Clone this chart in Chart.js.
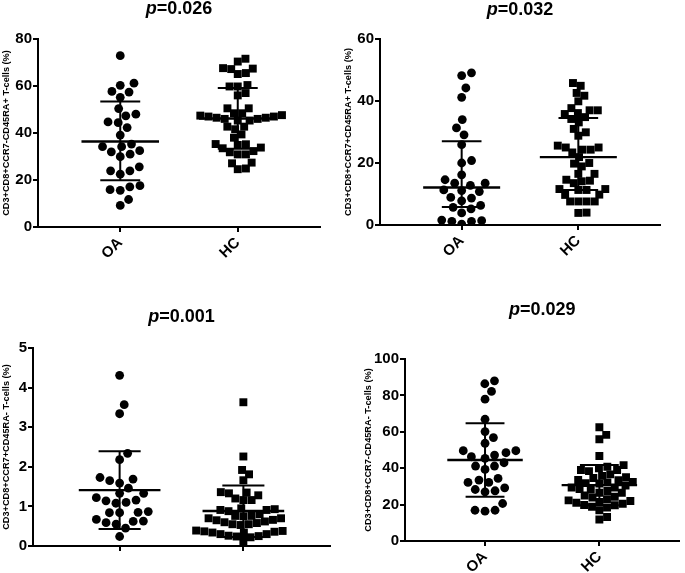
<!DOCTYPE html>
<html><head><meta charset="utf-8">
<script src="https://cdn.jsdelivr.net/npm/chart.js@4.4.1/dist/chart.umd.min.js"></script>
<style>
html,body{margin:0;padding:0;background:#fff;}
#wrap{position:relative;width:685px;height:573px;overflow:hidden;background:#fff;}
.pn{position:absolute;}
.pn canvas{display:block;}
</style></head><body>
<div id="wrap">
<div class="pn" style="left:0;top:0;"><canvas id="c1" width="340" height="285"></canvas></div>
<div class="pn" style="left:340px;top:0;"><canvas id="c2" width="345" height="285"></canvas></div>
<div class="pn" style="left:0;top:290px;"><canvas id="c3" width="340" height="283"></canvas></div>
<div class="pn" style="left:340px;top:290px;"><canvas id="c4" width="345" height="283"></canvas></div>
</div>
<script>
// ---------- data ----------
const groups = ['OA', 'HC'];
const pValues = ['0.026', '0.032', '0.001', '0.029'];
const yTitles = [
  'CD3+CD8+CCR7-CD45RA+ T-cells (%)',
  'CD3+CD8+CCR7+CD45RA+ T-cells (%)',
  'CD3+CD8+CCR7+CD45RA- T-cells (%)',
  'CD3+CD8+CCR7-CD45RA- T-cells (%)'
];
const yMaxes = [80, 60, 5, 100];
const ySteps = [20, 20, 1, 20];

// Panel 1
const p1OA = [72.9,61.2,60.3,57.7,57.4,55.2,50.4,48.0,47.3,44.7,44.4,42.3,39.1,35.3,34.2,34.2,32.5,32.0,31.0,29.9,25.6,23.9,23.9,22.5,17.6,17.1,15.9,15.6,11.7,9.2];
const p1HC = [71.6,70.4,67.6,67.4,67.2,65.5,65.1,60.4,59.8,59.8,57.0,56.0,50.5,50.5,48.4,48.4,47.6,47.4,47.0,47.0,46.5,46.5,46.0,46.0,45.3,45.3,42.7,42.7,41.6,39.4,38.0,35.3,35.2,34.9,33.8,33.5,32.3,31.8,30.9,30.9,27.4,27.1,24.9,24.6];
const p1Mid = [36.4, 46.2];
const p1Low = [19.9, 33.3];
const p1High = [53.4, 59.1];

// Panel 2
const p2OA = [49.1,48.2,44.2,41.2,34.0,31.3,29.1,25.9,20.8,20.0,16.2,14.6,13.5,13.5,12.8,11.3,11.1,10.8,8.9,8.7,7.8,6.3,5.7,5.2,3.9,1.6,1.4,1.2,1.2,0.3];
const p2HC = [45.8,44.9,42.6,41.7,39.9,37.7,37.0,37.0,36.1,35.8,34.8,34.2,33.1,31.0,29.9,28.8,25.6,25.0,25.0,24.3,24.3,23.4,21.9,20.0,19.8,18.9,16.5,16.5,14.6,14.3,14.1,13.5,11.6,11.6,11.3,11.3,9.8,9.7,7.6,7.6,7.6,7.6,4.0,3.9];
const p2Mid = [12.1, 21.9];
const p2Low = [5.8, 11.3];
const p2High = [27.0, 34.5];

// Panel 3
const p3OA = [4.31,3.57,3.34,2.34,2.18,1.73,1.69,1.65,1.59,1.46,1.33,1.33,1.22,1.16,1.14,1.10,1.08,0.87,0.85,0.84,0.84,0.67,0.63,0.62,0.59,0.55,0.45,0.24];
const p3HC = [3.63,2.26,1.92,1.81,1.66,1.36,1.35,1.33,1.28,1.20,1.16,1.16,0.95,0.93,0.91,0.91,0.88,0.80,0.76,0.75,0.70,0.66,0.62,0.58,0.55,0.53,0.55,0.60,0.65,0.70,0.76,0.38,0.36,0.34,0.30,0.26,0.24,0.22,0.25,0.30,0.34,0.37,0.39,0.12];
const p3Mid = [1.41, 0.885];
const p3Low = [0.43, 0.23];
const p3High = [2.39, 1.53];

// Panel 4
const p4OA = [88.0,86.4,82.2,77.9,66.9,60.1,56.8,53.7,49.6,49.6,48.5,47.2,46.3,45.4,43.0,41.2,41.2,39.3,34.4,33.5,32.2,32.2,29.2,28.3,27.6,27.0,20.6,16.9,16.9,16.4];
const p4HC = [62.5,58.3,55.9,46.7,41.7,40.8,39.9,39.0,39.0,38.4,36.6,35.8,35.0,34.6,33.5,33.4,32.5,32.2,31.8,31.6,30.5,29.4,29.4,28.5,28.3,27.5,26.5,26.5,25.0,24.3,23.9,23.0,22.3,22.0,21.5,21.0,20.5,19.8,19.6,18.8,18.4,16.9,13.2,11.8];
const p4Mid = [44.5, 30.7];
const p4Low = [24.3, 19.7];
const p4High = [64.7, 41.7];

// ---------- drawing ----------
const FONT = 'Arial, "Liberation Sans", Helvetica, sans-serif';
Chart.defaults.font.family = FONT;
Chart.defaults.color = '#000';

// beeswarm: horizontal pixel offsets so markers don't overlap
function swarm(vals, pxPerY, D) {
  const idx = vals.map((v, i) => i).sort((a, b) => vals[a] - vals[b]);
  const placed = [];
  const offs = new Array(vals.length).fill(0);
  idx.forEach(i => {
    const y = vals[i] * pxPerY;
    const near = placed.filter(p => Math.abs(p.y - y) < D);
    const cands = [0];
    near.forEach(p => {
      const dx = Math.sqrt(D * D - (p.y - y) * (p.y - y));
      cands.push(p.x + dx, p.x - dx);
    });
    const ok = cands.filter(c => near.every(p => (p.x - c) * (p.x - c) + (p.y - y) * (p.y - y) >= D * D - 0.05));
    const bal = near.reduce((s, p) => s + Math.sign(p.x), 0);
    ok.sort((a, b) => {
      const d = Math.abs(a) - Math.abs(b);
      if (Math.abs(d) > 0.6) return d;
      return bal > 0 ? a - b : b - a;
    });
    const x = ok.length ? ok[0] : 0;
    placed.push({ x, y });
    offs[i] = x;
  });
  return offs;
}

const pTitle = {
  id: 'pTitle',
  afterDraw(chart, args, opts) {
    const ctx = chart.ctx, a = chart.chartArea;
    const cx = (a.left + a.right) / 2;
    ctx.save();
    ctx.fillStyle = '#000';
    ctx.textBaseline = 'alphabetic';
    ctx.textAlign = 'left';
    const f1 = 'italic bold ' + opts.size + 'px ' + FONT;
    const f2 = 'bold ' + opts.size + 'px ' + FONT;
    ctx.font = f1; const w1 = ctx.measureText('p').width;
    ctx.font = f2; const w2 = ctx.measureText('=' + opts.text).width;
    const x = cx - (w1 + w2) / 2;
    ctx.font = f1; ctx.fillText('p', x, opts.y);
    ctx.font = f2; ctx.fillText('=' + opts.text, x + w1, opts.y);
    ctx.restore();
  }
};

function makePanel(id, k, oa, hc, mid, low, high, area) {
  const xMin = 0.3, xMax = 2.7;
  const plotW = area.right - area.left, plotH = area.bottom - area.top;
  const pxPerX = plotW / (xMax - xMin), pxPerY = plotH / yMaxes[k];
  const datasets = [];
  [oa, hc].forEach((vals, gi) => {
    const g = gi + 1;
    const circle = gi === 0;
    const offs = swarm(vals, pxPerY, circle ? 10.2 : 8.2);
    datasets.push({
      data: vals.map((v, i) => ({ x: g + offs[i] / pxPerX, y: v })),
      pointStyle: circle ? 'circle' : 'rect',
      pointRadius: circle ? 4.4 : 5.6,
      backgroundColor: '#000', borderColor: '#000', borderWidth: 0,
      showLine: false, order: 2
    });
    const seg = (x1, y1, x2, y2, w) => ({
      data: [{ x: x1, y: y1 }, { x: x2, y: y2 }],
      showLine: true, borderColor: '#000', borderWidth: w, pointRadius: 0,
      borderCapStyle: 'butt', order: 1
    });
    datasets.push(seg(g - 0.33, mid[gi], g + 0.33, mid[gi], 2.4));
    datasets.push(seg(g, low[gi], g, high[gi], 2));
    datasets.push(seg(g - 0.17, high[gi], g + 0.17, high[gi], 2));
    datasets.push(seg(g - 0.17, low[gi], g + 0.17, low[gi], 2));
  });
  new Chart(document.getElementById(id), {
    type: 'scatter',
    data: { datasets },
    plugins: [pTitle],
    options: {
      responsive: false, animation: false, devicePixelRatio: 1, events: [],
      layout: { padding: { left: 0, top: area.top, right: area.w - area.right, bottom: 0 } },
      plugins: {
        legend: { display: false }, tooltip: { enabled: false },
        pTitle: { text: pValues[k], size: 18, y: area.titleY }
      },
      scales: {
        x: {
          type: 'linear', min: xMin, max: xMax,
          afterBuildTicks: s => { s.ticks = [{ value: 1 }, { value: 2 }]; },
          afterFit: s => { s.height = area.h - area.bottom; },
          ticks: {
            display: area.showX, autoSkip: false, maxRotation: 45, minRotation: 45,
            font: { size: 15, weight: 'bold' }, color: '#000', padding: 2,
            callback: (v, i) => groups[i]
          },
          grid: { drawOnChartArea: false, drawTicks: true, tickLength: 5, color: '#000', lineWidth: 2 },
          border: { display: true, color: '#000', width: 2 }
        },
        y: {
          min: 0, max: yMaxes[k],
          afterFit: s => { s.width = area.left; },
          ticks: { stepSize: ySteps[k], font: { size: 15, weight: 'bold' }, color: '#000', padding: 1 },
          grid: { drawOnChartArea: false, drawTicks: true, tickLength: 5, color: '#000', lineWidth: 2 },
          border: { display: true, color: '#000', width: 2 },
          title: { display: true, text: yTitles[k], font: { size: 9.2, weight: 'bold' }, color: '#000', padding: { top: area.yPad, bottom: 0 } }
        }
      }
    }
  });
}

makePanel('c1', 0, p1OA, p1HC, p1Mid, p1Low, p1High, { w: 340, h: 285, left: 38, right: 320, top: 39, bottom: 227, titleY: 13.5, yPad: 0.5, showX: true });
makePanel('c2', 1, p2OA, p2HC, p2Mid, p2Low, p2High, { w: 345, h: 285, left: 40, right: 320, top: 39, bottom: 225, titleY: 14.5, yPad: 2.5, showX: true });
makePanel('c3', 2, p3OA, p3HC, p3Mid, p3Low, p3High, { w: 340, h: 283, left: 33, right: 330, top: 58, bottom: 256, titleY: 32, yPad: 0.5, showX: false });
makePanel('c4', 3, p4OA, p4HC, p4Mid, p4Low, p4High, { w: 345, h: 283, left: 65, right: 343, top: 69, bottom: 251, titleY: 25, yPad: 22.5, showX: true });
</script>
</body></html>
